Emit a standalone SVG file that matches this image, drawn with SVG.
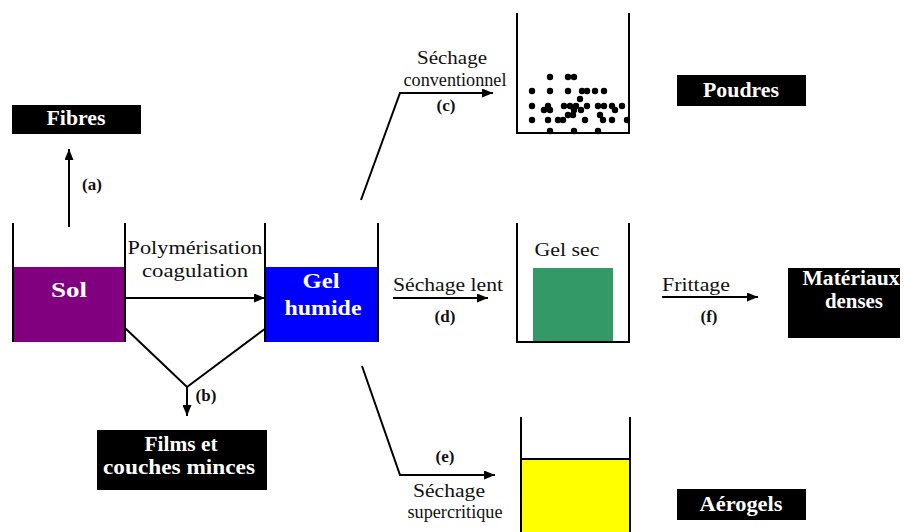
<svg xmlns="http://www.w3.org/2000/svg" width="905" height="532" viewBox="0 0 905 532">
<style>
text{font-family:'Liberation Serif','Times New Roman','DejaVu Serif',serif;}
.t{font-size:19px;fill:#111;}
.tb{font-size:20px;font-weight:bold;fill:#fff;}
.lb{font-size:17px;font-weight:bold;fill:#111;}
.ln{stroke:#000;stroke-width:2;fill:none;}
.box{fill:#000;}
</style>
<defs>
<marker id="ah" markerUnits="userSpaceOnUse" markerWidth="11" markerHeight="9" refX="11" refY="4.5" orient="auto">
<path d="M0,0 L11,4.5 L0,9 z" fill="#000"/>
</marker>
</defs>

<g id="sol">
<rect x="13" y="267" width="112" height="75" fill="#800080"/>
<path class="ln" d="M13,223 V342 M125,223 V342"/>
<text class="tb" x="69" y="297" text-anchor="middle" textLength="36" lengthAdjust="spacingAndGlyphs" font-size="21">Sol</text>
</g>

<g id="gel-humide">
<rect x="265" y="267" width="113" height="75" fill="#0000ff"/>
<path class="ln" d="M265,223 V342 M378,223 V342"/>
<text class="tb" x="321" y="288" text-anchor="middle" textLength="37" lengthAdjust="spacingAndGlyphs" font-size="21">Gel</text>
<text class="tb" x="323" y="315" text-anchor="middle" textLength="77" lengthAdjust="spacingAndGlyphs" font-size="21">humide</text>
</g>

<g id="fibres">
<rect class="box" x="12" y="105" width="129" height="29"/>
<text class="tb" x="76" y="125" text-anchor="middle" textLength="59" lengthAdjust="spacingAndGlyphs">Fibres</text>
</g>

<g id="films">
<rect class="box" x="97" y="430" width="170" height="60"/>
<text class="tb" x="181" y="451" text-anchor="middle" textLength="73" lengthAdjust="spacingAndGlyphs">Films et</text>
<text class="tb" x="179" y="474" text-anchor="middle" textLength="152" lengthAdjust="spacingAndGlyphs">couches minces</text>
</g>

<g id="poudres-recipient">
<path class="ln" d="M517,13 V133 H629 V13"/>
<g fill="#000">
<circle cx="550" cy="77" r="3.2"/><circle cx="568" cy="77" r="3.2"/><circle cx="574" cy="77" r="3.2"/>
<circle cx="532" cy="91" r="3.2"/><circle cx="550" cy="91" r="3.2"/><circle cx="568" cy="91" r="3.2"/><circle cx="582" cy="91" r="3.2"/><circle cx="587" cy="91" r="3.2"/><circle cx="595" cy="91" r="3.2"/><circle cx="604" cy="91" r="3.2"/>
<circle cx="580" cy="99" r="3.2"/>
<circle cx="532" cy="106" r="3.2"/><circle cx="548" cy="106" r="3.2"/><circle cx="564" cy="106" r="3.2"/><circle cx="570" cy="106" r="3.2"/><circle cx="576" cy="106" r="3.2"/><circle cx="587" cy="106" r="3.2"/><circle cx="598" cy="106" r="3.2"/><circle cx="604" cy="106" r="3.2"/><circle cx="612" cy="106" r="3.2"/><circle cx="622" cy="106" r="3.2"/>
<circle cx="544" cy="110" r="3.2"/><circle cx="550" cy="110" r="3.2"/><circle cx="574" cy="110" r="3.2"/><circle cx="581" cy="110" r="3.2"/><circle cx="615" cy="110" r="3.2"/>
<circle cx="568" cy="115" r="3.2"/><circle cx="573" cy="115" r="3.2"/><circle cx="600" cy="115" r="3.2"/>
<circle cx="532" cy="120" r="3.2"/><circle cx="548" cy="120" r="3.2"/><circle cx="558" cy="120" r="3.2"/><circle cx="563" cy="120" r="3.2"/><circle cx="585" cy="120" r="3.2"/><circle cx="603" cy="120" r="3.2"/><circle cx="612" cy="120" r="3.2"/><circle cx="627" cy="120" r="3.2"/>
<circle cx="550" cy="131" r="3.2"/><circle cx="574" cy="131" r="3.2"/><circle cx="598" cy="131" r="3.2"/>
</g>
</g>

<g id="poudres">
<rect class="box" x="677" y="75" width="129" height="31"/>
<text class="tb" x="741" y="97" text-anchor="middle" textLength="76" lengthAdjust="spacingAndGlyphs">Poudres</text>
</g>

<g id="gel-sec">
<rect x="533" y="268" width="80" height="74" fill="#339966"/>
<path class="ln" d="M517,223 V342 H629 V223"/>
<text class="t" x="567" y="256" text-anchor="middle" textLength="65" lengthAdjust="spacingAndGlyphs">Gel sec</text>
</g>

<g id="materiaux">
<rect class="box" x="788" y="268" width="112" height="70"/>
<text class="tb" x="851" y="285" text-anchor="middle" textLength="97" lengthAdjust="spacingAndGlyphs">Matériaux</text>
<text class="tb" x="854" y="308" text-anchor="middle" textLength="58" lengthAdjust="spacingAndGlyphs">denses</text>
</g>

<g id="aerogel-recipient">
<rect x="521" y="459" width="109" height="75" fill="#ffff00" stroke="#000" stroke-width="2"/>
<path class="ln" d="M521,417 V532 M630,417 V532"/>
</g>

<g id="aerogels">
<rect class="box" x="677" y="489" width="129" height="31"/>
<text class="tb" x="741" y="511" text-anchor="middle" textLength="83" lengthAdjust="spacingAndGlyphs">Aérogels</text>
</g>

<g id="connectors">
<path class="ln" d="M69,227 V149" marker-end="url(#ah)"/>
<path class="ln" d="M125,298 H265" marker-end="url(#ah)"/>
<path class="ln" d="M125,328 L187,387 L266,328"/>
<path class="ln" d="M187,387 V416" marker-end="url(#ah)"/>
<path class="ln" d="M361,200 L400,93 H493" marker-end="url(#ah)"/>
<path class="ln" d="M393,298 H488" marker-end="url(#ah)"/>
<path class="ln" d="M362,366 L400,475 H495" marker-end="url(#ah)"/>
<path class="ln" d="M662,297 H758" marker-end="url(#ah)"/>
</g>

<g id="labels">
<text class="lb" x="92" y="190" text-anchor="middle">(a)</text>
<text class="t" x="195" y="254" text-anchor="middle" textLength="135" lengthAdjust="spacingAndGlyphs">Polymérisation</text>
<text class="t" x="195" y="277" text-anchor="middle" textLength="106" lengthAdjust="spacingAndGlyphs">coagulation</text>
<text class="lb" x="206" y="401" text-anchor="middle">(b)</text>
<text class="t" x="452" y="64" text-anchor="middle" textLength="70" lengthAdjust="spacingAndGlyphs">Séchage</text>
<text class="t" x="455" y="86" text-anchor="middle" textLength="103" lengthAdjust="spacingAndGlyphs">conventionnel</text>
<text class="lb" x="446" y="111" text-anchor="middle">(c)</text>
<text class="t" x="448" y="291" text-anchor="middle" textLength="110" lengthAdjust="spacingAndGlyphs">Séchage lent</text>
<text class="lb" x="445" y="322" text-anchor="middle">(d)</text>
<text class="lb" x="445" y="462" text-anchor="middle">(e)</text>
<text class="t" x="449" y="497" text-anchor="middle" textLength="72" lengthAdjust="spacingAndGlyphs">Séchage</text>
<text class="t" x="455" y="518" text-anchor="middle" textLength="95" lengthAdjust="spacingAndGlyphs">supercritique</text>
<text class="t" x="696" y="291" text-anchor="middle" textLength="68" lengthAdjust="spacingAndGlyphs">Frittage</text>
<text class="lb" x="709" y="322" text-anchor="middle">(f)</text>
</g>
</svg>
